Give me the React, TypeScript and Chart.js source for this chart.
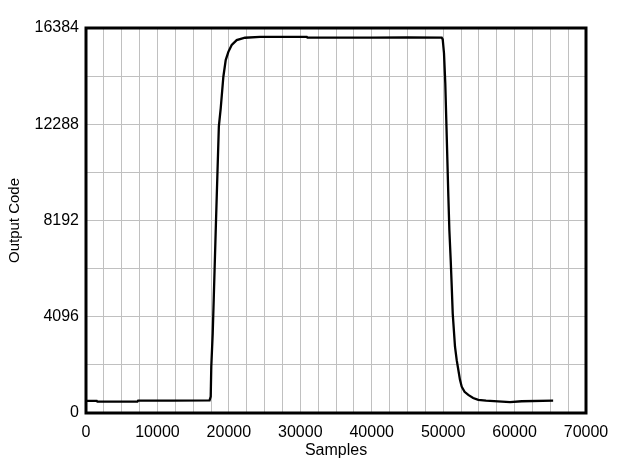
import React, { useEffect, useRef } from "react";
import { Chart, registerables } from "chart.js";

Chart.register(...registerables);

const samples: number[] = [
  0, 1500, 1600, 7200, 7300, 12000, 17300, 17460, 17540, 17740, 17880, 18200, 18600, 18860,
  19230, 19560, 19930, 20400, 21100, 22260, 24360, 30900, 31000, 40000, 45000, 49800, 49940,
  50120, 50300, 50440, 50580, 50730, 50870, 51060, 51200, 51340, 51660, 51900, 52130, 52350,
  52600, 53000, 53520, 54200, 54920, 56000, 59360, 61000, 65400,
];
const outputCode: number[] = [
  520, 520, 480, 480, 523, 530, 540, 700, 1970, 3390, 4810, 8170, 12200, 12966,
  14310, 15020, 15370, 15660, 15870, 15970, 16010, 16010, 15975, 15975, 15980, 15975, 15900,
  15310, 14030, 12470, 10900, 9210, 7790, 6500, 5400, 4240, 2820, 2250, 1830, 1420,
  1120, 900, 770, 640, 560, 523, 460, 500, 523,
];
const xTickLabels: number[] = [0, 10000, 20000, 30000, 40000, 50000, 60000, 70000];
const yTickLabels: number[] = [0, 4096, 8192, 12288, 16384];

const FONT = "'Liberation Sans', Arial, sans-serif";

const framePlugin = {
  id: "frame",
  afterDraw(chart: any) {
    const { ctx, chartArea } = chart;
    ctx.save();
    ctx.strokeStyle = "#000";
    ctx.lineWidth = 3;
    ctx.strokeRect(chartArea.left, chartArea.top, chartArea.right - chartArea.left, chartArea.bottom - chartArea.top);
    ctx.restore();
  },
};

export default function App() {
  const ref = useRef<HTMLCanvasElement | null>(null);
  useEffect(() => {
    document.body.style.margin = "0";
    const canvas = ref.current!;
    const chart = new Chart(canvas, {
      type: "line",
      data: {
        datasets: [
          {
            data: samples.map((x, i) => ({ x, y: outputCode[i] })),
            borderColor: "#000",
            borderWidth: 2.3,
            pointRadius: 0,
            tension: 0,
            fill: false,
          },
        ],
      },
      options: {
        responsive: false,
        animation: false,
        events: [],
        layout: { padding: { top: 28, right: 40, left: 6, bottom: 0 } },
        plugins: { legend: { display: false }, tooltip: { enabled: false } },
        scales: {
          x: {
            type: "linear",
            min: 0,
            max: 70000,
            afterFit(scale: any) {
              scale.height = 56;
            },
            grid: { color: "#c0c0c0", lineWidth: 1, drawTicks: false },
            border: { display: false },
            ticks: {
              stepSize: 2500,
              autoSkip: false,
              maxRotation: 0,
              padding: 10,
              color: "#000",
              font: { family: FONT, size: 16 },
              callback: (v: any) => (xTickLabels.includes(Number(v)) ? String(v) : ""),
            },
            title: {
              display: true,
              text: "Samples",
              color: "#000",
              font: { family: FONT, size: 16 },
              padding: { top: 0, bottom: 9 },
            },
          },
          y: {
            type: "linear",
            min: 0,
            max: 16384,
            afterFit(scale: any) {
              scale.width = 80;
            },
            grid: { color: "#c0c0c0", lineWidth: 1, drawTicks: false },
            border: { display: false },
            ticks: {
              stepSize: 2048,
              autoSkip: false,
              padding: 7,
              color: "#000",
              font: { family: FONT, size: 16 },
              callback: (v: any) => (yTickLabels.includes(Number(v)) ? String(v) : ""),
            },
            title: {
              display: true,
              text: "Output Code",
              color: "#000",
              font: { family: FONT, size: 15 },
              padding: { top: 0, bottom: 0 },
            },
          },
        },
      },
      plugins: [framePlugin],
    });
    return () => chart.destroy();
  }, []);
  return <canvas ref={ref} width={626} height={469} style={{ display: "block" }} />;
}
